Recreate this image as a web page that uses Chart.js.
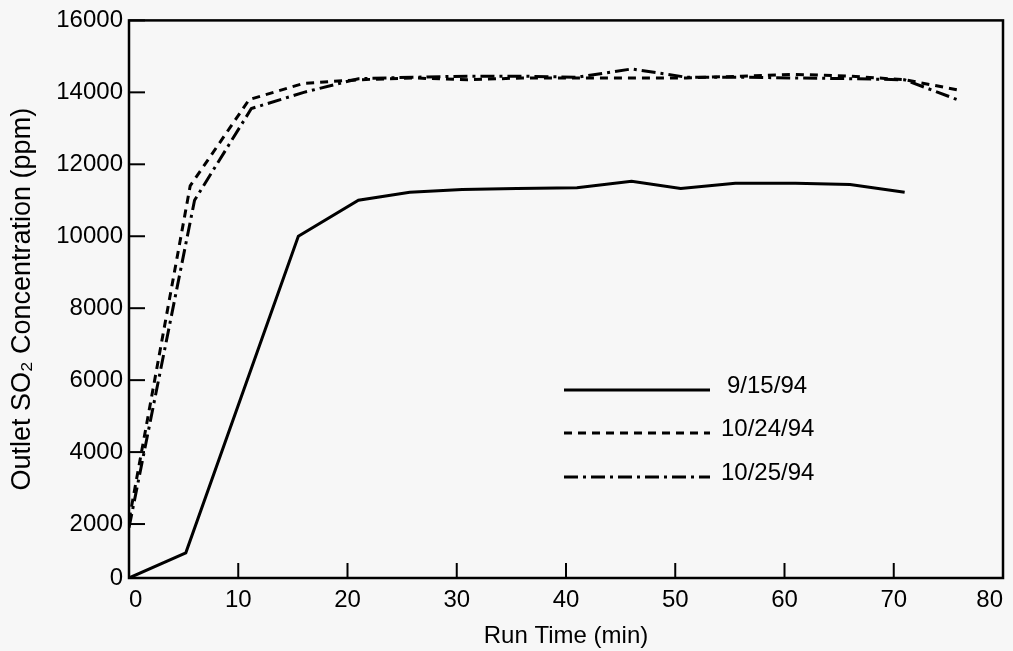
<!DOCTYPE html>
<html>
<head>
<meta charset="utf-8">
<script src="https://cdn.jsdelivr.net/npm/chart.js@4.4.1/dist/chart.umd.min.js"></script>
<style>
  html, body { margin: 0; padding: 0; background: #f7f7f7; }
  #wrap { width: 1013px; height: 651px; }
</style>
</head>
<body>
<div id="wrap"><canvas id="chart" width="1013" height="651"></canvas></div>
<script>
// Run time (min) and outlet SO2 (ppm)
const runTime0915 = [0, 5.2, 15.5, 21, 25.7, 30.5, 35.5, 41, 46, 50.5, 55.5, 61, 66, 71];
const so2_0915    = [500, 1200, 10000, 11000, 11220, 11300, 11330, 11350, 11530, 11330, 11470, 11470, 11440, 11220];

const runTime1024 = [0, 5.6, 11, 16, 21, 26, 31, 36, 41, 46, 51, 56, 61, 66, 71, 76.2];
const so2_1024    = [2100, 11400, 13800, 14250, 14350, 14400, 14350, 14400, 14400, 14400, 14400, 14450, 14500, 14450, 14350, 14050];

const runTime1025 = [0, 6, 11.2, 16, 21, 26, 31, 36, 41, 46, 51, 56, 61, 66, 71, 75.8];
const so2_1025    = [1900, 11000, 13550, 14000, 14380, 14420, 14450, 14450, 14420, 14650, 14420, 14420, 14400, 14380, 14350, 13800];

const seriesLabels = ["9/15/94", "10/24/94", "10/25/94"];

// the scan's "0" line sits closer to the 2000 tick than the other steps
const yAxisBase = 500;
const yTickValues = [500, 2000, 4000, 6000, 8000, 10000, 12000, 14000, 16000];
const yTickLabels = ["0", "2000", "4000", "6000", "8000", "10000", "12000", "14000", "16000"];
const xTickValues = [0, 10, 20, 30, 40, 50, 60, 70, 80];

const FONT = "'Liberation Sans', Arial, sans-serif";
const INK = "#000";

function toPoints(xs, ys) {
  return xs.map((x, i) => ({ x: x, y: ys[i] }));
}

const datasets = [
  { label: seriesLabels[0], data: toPoints(runTime0915, so2_0915), borderDash: [] },
  { label: seriesLabels[1], data: toPoints(runTime1024, so2_1024), borderDash: [8, 6] },
  { label: seriesLabels[2], data: toPoints(runTime1025, so2_1025), borderDash: [14, 5, 3, 5] }
].map(ds => Object.assign(ds, {
  borderColor: INK,
  borderWidth: 3,
  pointRadius: 0,
  tension: 0,
  fill: false
}));

// frame + inward tick marks
const framePlugin = {
  id: "frame",
  afterDraw(chart) {
    const { ctx, chartArea: a, scales } = chart;
    ctx.save();
    ctx.strokeStyle = INK;
    ctx.lineWidth = 2.5;
    ctx.strokeRect(a.left, a.top, a.right - a.left, a.bottom - a.top);
    ctx.lineWidth = 2;
    xTickValues.forEach(v => {
      const px = scales.x.getPixelForValue(v);
      ctx.beginPath();
      ctx.moveTo(px, a.bottom);
      ctx.lineTo(px, a.bottom - 15);
      ctx.stroke();
    });
    yTickValues.forEach(v => {
      const py = scales.y.getPixelForValue(v);
      ctx.beginPath();
      ctx.moveTo(a.left, py);
      ctx.lineTo(a.left + 16, py);
      ctx.stroke();
    });
    ctx.restore();
  }
};

// legend sitting inside the plot
const legendPlugin = {
  id: "innerLegend",
  afterDraw(chart) {
    const { ctx, scales } = chart;
    const x0 = scales.x.getPixelForValue(40);
    const rows = [390, 433, 477];
    ctx.save();
    ctx.font = "24px " + FONT;
    ctx.fillStyle = INK;
    ctx.textBaseline = "middle";
    chart.data.datasets.forEach((ds, i) => {
      ctx.strokeStyle = INK;
      ctx.lineWidth = 3;
      ctx.setLineDash(ds.borderDash);
      ctx.beginPath();
      ctx.moveTo(x0 - 2, rows[i]);
      ctx.lineTo(x0 + 144, rows[i]);
      ctx.stroke();
      ctx.setLineDash([]);
      ctx.textAlign = "left";
      ctx.fillText(ds.label, i === 0 ? x0 + 161 : x0 + 155, rows[i] - 4);
    });
    ctx.restore();
  }
};

const ctx = document.getElementById("chart").getContext("2d");
new Chart(ctx, {
  type: "line",
  data: { datasets },
  options: {
    responsive: false,
    animation: false,
    layout: { padding: { left: 0, right: 10, top: 19, bottom: 0 } },
    plugins: {
      legend: { display: false },
      tooltip: { enabled: false }
    },
    scales: {
      x: {
        type: "linear",
        min: 0,
        max: 80,
        grid: { display: false, drawTicks: false },
        border: { display: false },
        afterBuildTicks: s => { s.ticks = xTickValues.map(v => ({ value: v })); },
        afterFit: s => { s.height = 73; },
        ticks: {
          color: INK,
          padding: 8,
          align: "inner",
          maxRotation: 0,
          font: { family: FONT, size: 24 }
        },
        title: {
          display: true,
          text: "Run Time (min)",
          color: INK,
          padding: { top: 4, bottom: 0 },
          font: { family: FONT, size: 24 }
        }
      },
      y: {
        type: "linear",
        min: yAxisBase,
        max: 16000,
        grid: { display: false, drawTicks: false },
        border: { display: false },
        afterBuildTicks: s => { s.ticks = yTickValues.map(v => ({ value: v })); },
        afterFit: s => { s.width = 129; },
        ticks: {
          color: INK,
          padding: 6,
          font: { family: FONT, size: 24 },
          callback: (v) => yTickLabels[yTickValues.indexOf(v)]
        },
        title: {
          display: true,
          text: "Outlet SO\u2082 Concentration (ppm)",
          color: INK,
          padding: { top: 6, bottom: 0 },
          font: { family: FONT, size: 27 }
        }
      }
    }
  },
  plugins: [framePlugin, legendPlugin]
});
</script>
</body>
</html>
